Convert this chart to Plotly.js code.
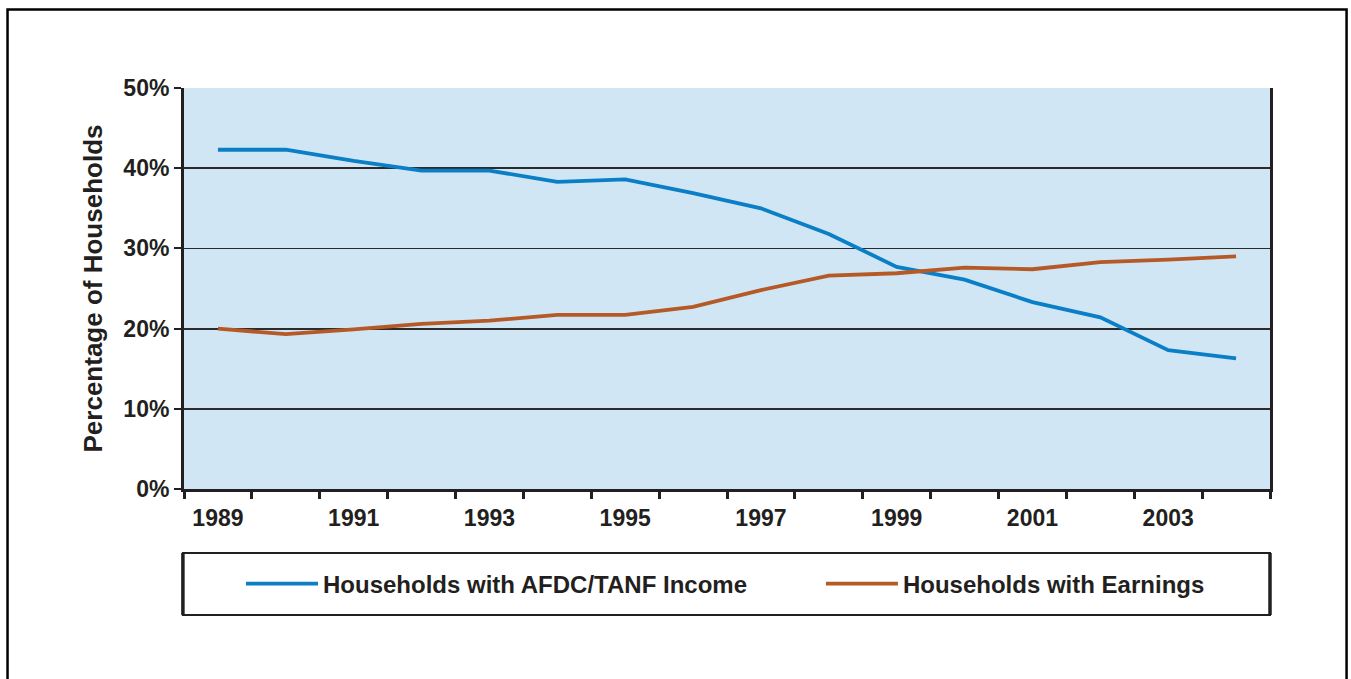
<!DOCTYPE html>
<html>
<head>
<meta charset="utf-8">
<script src="https://cdn.plot.ly/plotly-3.0.1.min.js"></script>
<style>html,body{margin:0;padding:0;background:#fff;}#chart{width:1351px;height:679px;}</style>
</head>
<body>
<div id="chart"></div>
<script>
const years = ["1989","1990","1991","1992","1993","1994","1995","1996","1997","1998","1999","2000","2001","2002","2003","2004"];
const tickLabels = ["1989","","1991","","1993","","1995","","1997","","1999","","2001","","2003",""];
const afdcTanf = [42.3, 42.3, 40.9, 39.7, 39.7, 38.3, 38.6, 36.9, 35.0, 31.8, 27.7, 26.1, 23.3, 21.4, 17.3, 16.3];
const earnings = [20.0, 19.3, 19.9, 20.6, 21.0, 21.7, 21.7, 22.7, 24.8, 26.6, 26.9, 27.6, 27.4, 28.3, 28.6, 29.0];
const seriesNames = ["Households with AFDC/TANF Income", "Households with Earnings"];

const FONT = "Liberation Sans, Arial, Helvetica, sans-serif";
const TXT = "#231f20";

const traces = [
  {x: years, y: afdcTanf, name: seriesNames[0], type: "scatter", mode: "lines",
   line: {color: "#0a7fc6", width: 3.8}, legend: "legend"},
  {x: years, y: earnings, name: seriesNames[1], type: "scatter", mode: "lines",
   line: {color: "#b55a27", width: 3.8}, legend: "legend2"}
];

const legendBase = {
  orientation: "h",
  xanchor: "left",
  y: -0.237, yanchor: "middle",
  bgcolor: "rgba(0,0,0,0)",
  borderwidth: 0,
  itemwidth: 72,
  font: {family: FONT, size: 24, color: TXT, weight: "bold"}
};

const layout = {
  width: 1351, height: 679,
  margin: {l: 184, r: 81, t: 88, b: 190},
  paper_bgcolor: "#ffffff",
  plot_bgcolor: "#d1e6f5",
  showlegend: true,
  font: {family: FONT, color: TXT, size: 23, weight: "bold"},
  xaxis: {
    type: "category",
    tickvals: years, ticktext: tickLabels,
    tickson: "boundaries",
    ticks: "outside", ticklen: 7, tickwidth: 3, tickcolor: TXT,
    ticklabelstandoff: 6,
    showline: true, linewidth: 3, linecolor: TXT,
    showgrid: false, zeroline: false,
    tickfont: {family: FONT, size: 23, color: TXT, weight: "bold"},
    range: [-0.5, 15.5]
  },
  yaxis: {
    range: [0, 50], dtick: 10, ticksuffix: "%",
    ticks: "outside", ticklen: 7, tickwidth: 2, tickcolor: TXT,
    showline: true, linewidth: 3, linecolor: TXT, mirror: true,
    showgrid: true, gridcolor: "#2b2b2b", gridwidth: 1.8,
    zeroline: false,
    tickfont: {family: FONT, size: 23, color: TXT, weight: "bold"},
    title: {text: "Percentage of Households", standoff: 14,
            font: {family: FONT, size: 26, color: TXT, weight: "bold"}}
  },
  legend: Object.assign({}, legendBase, {x: 0.0525}),
  legend2: Object.assign({}, legendBase, {x: 0.5865}),
  shapes: [
    {type: "rect", xref: "paper", yref: "paper",
     x0: -0.001, x1: 1.0, y0: -0.314, y1: -0.1596,
     line: {color: TXT, width: 2}},
    {type: "line", xref: "paper", yref: "paper",
     x0: -0.001, x1: -0.001, y0: -0.314, y1: -0.1596,
     line: {color: TXT, width: 3.5}},
    {type: "line", xref: "paper", yref: "paper",
     x0: 1.0, x1: 1.0, y0: -0.314, y1: -0.1596,
     line: {color: TXT, width: 3.5}},
    {type: "rect", xref: "paper", yref: "paper",
     x0: -0.1625, x1: 1.0705, y0: -0.6, y1: 1.196,
     line: {color: "#000000", width: 2.5}}
  ]
};

Plotly.newPlot("chart", traces, layout, {displayModeBar: false, staticPlot: true});
</script>
</body>
</html>
